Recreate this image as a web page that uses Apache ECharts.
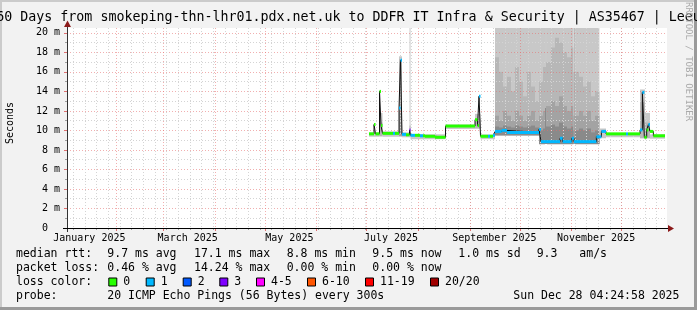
<!DOCTYPE html>
<html><head><meta charset="utf-8">
<script src="https://cdn.jsdelivr.net/npm/echarts@6/dist/echarts.min.js"></script>
<style>html,body{margin:0;padding:0;background:#f2f2f2}#c{width:697px;height:310px}</style>
</head><body><div id="c"></div>
<script>
// ---------- time frame ----------
const END_TIME = Date.UTC(2025, 11, 28, 4, 24, 58);
const SPAN_DAYS = 360;
const YEAR_START = Date.UTC(2025, 0, 1);
const Y_MAX = 20.5;

// ---------- axis ticks / labels ----------
const yTickValues = [0, 2, 4, 6, 8, 10, 12, 14, 16, 18, 20];
const yMinorValues = [1, 3, 5, 7, 9, 11, 13, 15, 17, 19];
const monthLabelText = ['January 2025', 'March 2025', 'May 2025', 'July 2025', 'September 2025', 'November 2025'];
const monthLabelMonth = [0, 2, 4, 6, 8, 10];

// ---------- median rtt (ms), step segments; days since 2025-01-01 ----------
const medDays = [182.4, 185.4, 186.3, 188.7, 189.6, 190.5, 196.8, 198.0, 200.4, 201.3, 202.2, 204.6, 206.7, 207.3, 210.0, 213.0, 214.8, 216.0, 222.0, 228.3,
  246.0, 247.5, 248.4, 249.3, 253.8, 255.0, 256.8, 258.0, 262.0, 265.2, 284.4, 285.6, 297.0, 298.6, 304.0, 305.4, 318.8, 321.8, 324.6, 336.6,
  337.8, 345.0, 346.4, 347.6, 349.0, 350.0, 351.0, 353.0, 360.0];
const medValues = [9.65, 10.6, 9.65, 14.0, 10.5, 9.7, 9.7, 9.7, 12.3, 17.2, 9.6, 9.55, 10.05, 9.5, 9.5, 9.45, 9.45, 9.4, 9.3, 10.45,
  11.1, 10.5, 13.5, 9.4, 9.4, 9.4, 9.5, 9.9, 10.0, 9.8, 10.1, 8.85, 9.2, 8.85, 9.2, 8.85, 9.35, 9.9, 9.65, 9.65,
  9.65, 10.05, 13.9, 9.3, 10.05, 10.6, 9.9, 9.45];
const medLoss = [0, 0, 0, 0, 0, 0, 1, 0, 1, 1, 1, 0, 3, 1, 0, 1, 0, 0, 0, 0,
  0, 0, 1, 0, 1, 0, 1, 1, 1, 1, 1, 1, 1, 1, 1, 1, 1, 1, 0, 1,
  0, 1, 1, 0, 0, 1, 0, 0];

// ---------- smoke (ms): segment boundaries + band tops (lightest .. darkest) ----------
const smokeDays = [182.4, 188.7, 190.5, 200.4, 202.2, 206.7, 207.3, 228.3, 246.0, 249.3,
  258.0, 260.4, 262.8, 265.2, 267.6, 270.0, 272.4, 274.8, 277.2, 279.6,
  282.0, 284.4, 286.8, 288.0, 288.6, 289.2, 291.6, 294.0, 296.4, 298.8,
  301.2, 303.6, 305.0, 305.8, 306.0, 308.4, 310.8, 313.2, 315.6, 318.0,
  320.6, 324.6, 345.0, 348.0, 351.0, 360.0];
const smokeLo = [9.35, 9.4, 9.35, 9.4, 9.3, 9.3, 9.1, 10.15, 10.2, 9.1,
  9.5, 9.5, 9.5, 9.5, 9.5, 9.5, 9.5, 9.5, 9.5, 9.5,
  9.5, 8.6, 8.6, 8.6, 8.6, 8.6, 8.6, 8.6, 8.6, 8.6,
  8.6, 8.6, 8.6, 8.6, 8.6, 8.6, 8.6, 8.6, 8.6, 8.6,
  9.2, 9.3, 9.2, 9.2, 9.15];
const smokeL1 = [9.8, 11.8, 9.9, 17.6, 9.8, 20.6, 9.6, 10.6, 11.7, 9.6,
  20.6, 20.6, 20.6, 20.6, 20.6, 20.6, 20.6, 20.6, 20.6, 20.6,
  20.6, 20.6, 20.6, 20.6, 20.6, 20.6, 20.6, 20.6, 20.6, 20.6,
  20.6, 20.6, 20.6, 20.6, 20.6, 20.6, 20.6, 20.6, 20.6, 20.6,
  10.2, 9.75, 14.2, 11.8, 9.6];
const smokeL2 = [0, 10.8, 0, 17.3, 0, 10.5, 0, 0, 11.2, 0,
  17.5, 16.0, 14.5, 15.5, 14.0, 16.5, 15.0, 13.5, 16.0, 14.5,
  13.0, 15.0, 16.5, 16.5, 17.0, 17.0, 18.5, 19.5, 19.0, 18.0,
  17.5, 18.5, 16.0, 16.0, 16.0, 15.5, 14.5, 15.0, 13.5, 14.0,
  0, 0, 13.0, 10.8, 0];
const smokeL3 = [0, 0, 0, 12.0, 0, 0, 0, 0, 0, 0,
  11.5, 11.0, 12.0, 11.5, 11.0, 12.0, 11.5, 11.0, 11.5, 12.0,
  11.0, 11.5, 12.0, 12.0, 12.5, 12.5, 13.0, 12.5, 13.5, 12.5,
  12.0, 12.5, 11.5, 11.5, 11.5, 12.0, 11.5, 12.0, 11.0, 11.5,
  0, 0, 0, 0, 0];
const smokeL4 = [0, 0, 0, 0, 0, 0, 0, 0, 0, 0,
  10.4, 10.3, 10.5, 10.4, 10.3, 10.5, 10.4, 10.3, 10.4, 10.5,
  10.3, 10.0, 10.2, 12.3, 10.4, 10.4, 10.6, 10.4, 10.8, 10.4,
  10.2, 10.4, 10.0, 20.6, 10.0, 10.2, 10.0, 10.2, 9.8, 10.0,
  0, 0, 0, 0, 0];

// ---------- legend ----------
const legendRtt = ['median rtt:', '9.7 ms avg', '17.1 ms max', '8.8 ms min', '9.5 ms now', '1.0 ms sd', '9.3', 'am/s'];
const legendLoss = ['packet loss:', '0.46 % avg', '14.24 % max', '0.00 % min', '0.00 % now'];
const lossLabels = ['0', '1', '2', '3', '4-5', '6-10', '11-19', '20/20'];
const lossColors = ['#26ff00', '#00b8ff', '#0059ff', '#7e00ff', '#ff00ff', '#ff5500', '#ff0000', '#a10000'];
const probeText = ['probe:', '20 ICMP Echo Pings (56 Bytes) every 300s', 'Sun Dec 28 04:24:58 2025'];
const titleText = '360 Days from smokeping-thn-lhr01.pdx.net.uk to DDFR IT Infra & Security | AS35467 | Leeuwarden';
const sideText = 'RRDTOOL / TOBI OETIKER';
const yTitle = 'Seconds';

// ---------- helpers ----------
const DAY = 86400000;
const START_TIME = END_TIME - SPAN_DAYS * DAY;
const ts = d => YEAR_START + d * DAY;
const FONT = 'DejaVu Sans Mono';

const mondays = [];
for (let t = Date.UTC(2025, 0, 6); t <= END_TIME; t += 7 * DAY) if (t >= START_TIME) mondays.push(t);
const monthStarts = [];
for (let m = 0; m < 12; m++) { const t = Date.UTC(2025, m, 1); if (t >= START_TIME && t <= END_TIME) monthStarts.push(t); }
const labelPos = monthLabelMonth.map(m => Date.UTC(2025, m, 1) + 14.6 * DAY);
const labelMap = {}; labelPos.forEach((t, i) => labelMap[t] = monthLabelText[i]);

const medData = medValues.map((v, i) => [ts(medDays[i]), ts(medDays[i + 1]), v, medLoss[i]]);
const medLine = medValues.map((v, i) => [ts(medDays[i]), v]);
medLine.push([ts(medDays[medDays.length - 1]), medValues[medValues.length - 1]]);
const smokeData = smokeLo.map((lo, i) => [ts(smokeDays[i]), ts(smokeDays[i + 1]), lo, smokeL1[i], smokeL2[i], smokeL3[i], smokeL4[i]]);
const smokeColors = ['#c8c8c8', '#b7b7b7', '#a3a3a3', '#8a8a8a'];

const MINOR = '#d4d4d4', MAJOR = 'rgba(230,110,110,0.55)';
const baseX = {type: 'value', min: START_TIME, max: END_TIME, position: 'bottom', gridIndex: 0, z: 2};
const baseY = {type: 'value', min: 0, max: Y_MAX, position: 'left', gridIndex: 0, z: 2};

const chart = echarts.init(document.getElementById('c'), null, {renderer: 'canvas'});
const g = [];
g.push({type: 'rect', shape: {x: 0, y: 0, width: 697, height: 2}, style: {fill: '#cbcbcb'}, silent: true});
g.push({type: 'rect', shape: {x: 0, y: 0, width: 2, height: 310}, style: {fill: '#cbcbcb'}, silent: true});
g.push({type: 'rect', shape: {x: 694, y: 0, width: 3, height: 310}, style: {fill: '#9a9a9a'}, silent: true});
g.push({type: 'rect', shape: {x: 0, y: 307, width: 697, height: 3}, style: {fill: '#9a9a9a'}, silent: true});
g.push({type: 'text', x: -11.7, y: 18, style: {text: titleText, font: '13.3px "' + FONT + '"', fill: '#000', verticalAlign: 'middle', align: 'left'}});
g.push({type: 'text', x: 10, y: 123, rotation: Math.PI / 2, style: {text: yTitle, font: '10px "' + FONT + '"', fill: '#000', verticalAlign: 'middle', align: 'center'}});
g.push({type: 'text', x: 688, y: 2, rotation: -Math.PI / 2, style: {text: sideText, font: '9px "' + FONT + '"', fill: '#aaaaaa', verticalAlign: 'middle', align: 'left'}});
g.push({type: 'line', shape: {x1: 67.5, y1: 26, x2: 67.5, y2: 232}, style: {stroke: '#333', lineWidth: 1}, z: 10});
g.push({type: 'line', shape: {x1: 63, y1: 228.5, x2: 669, y2: 228.5}, style: {stroke: '#000', lineWidth: 1}, z: 10});
g.push({type: 'polygon', shape: {points: [[668, 225], [674, 228.5], [668, 232]]}, style: {fill: '#8b1a1a'}, z: 10});
g.push({type: 'polygon', shape: {points: [[64, 27], [67.5, 20.5], [71, 27]]}, style: {fill: '#8b1a1a'}, z: 10});
const LF = '11.5px "' + FONT + '"';
const txt = (s, x, y) => g.push({type: 'text', x: x, y: y, style: {text: s, font: LF, fill: '#000', verticalAlign: 'middle', align: 'left'}});
const rttX = [16, 107.3, 194, 286.7, 372.3, 458.3, 536.7, 579.3];
legendRtt.forEach((s, i) => txt(s, rttX[i], 254.5));
const lossX = [16, 107.3, 194, 286.7, 372.3];
legendLoss.forEach((s, i) => txt(s, lossX[i], 268.5));
txt('loss color:', 16, 282.5);
const boxX = [108.3, 145.7, 182.7, 219.3, 256, 307, 365, 430];
lossLabels.forEach((s, i) => {
  g.push({type: 'rect', shape: {x: boxX[i] + 0.5, y: 278, width: 8, height: 8}, style: {fill: lossColors[i], stroke: '#000', lineWidth: 1}});
  txt(s, boxX[i] + 15, 282.5);
});
txt(probeText[0], 16, 296.3);
txt(probeText[1], 107.3, 296.3);
txt(probeText[2], 513.3, 296.3);

chart.setOption({
  animation: false,
  backgroundColor: '#f2f2f2',
  grid: {left: 67, top: 28, width: 600, height: 200, show: true, backgroundColor: '#ffffff', borderWidth: 0, containLabel: false},
  xAxis: [
    Object.assign({}, baseX, {
      axisLine: {show: true, lineStyle: {color: '#000', width: 1}},
      axisTick: {show: true, customValues: mondays, length: 2, lineStyle: {color: '#a0a0a0'}},
      splitLine: {show: true, lineStyle: {color: MINOR, type: [1, 2], width: 1}},
      axisLabel: {show: false}
    }),
    Object.assign({}, baseX, {
      axisLine: {show: false},
      axisTick: {show: true, customValues: monthStarts, length: 3, lineStyle: {color: '#e07070'}},
      splitLine: {show: true, lineStyle: {color: MAJOR, type: [1, 2], width: 1}},
      axisLabel: {show: false}
    }),
    Object.assign({}, baseX, {
      axisLine: {show: false}, axisTick: {show: false}, splitLine: {show: false},
      axisLabel: {show: true, customValues: labelPos, formatter: v => labelMap[v] || '', fontFamily: FONT, fontSize: 10, color: '#000', margin: 5, hideOverlap: false}
    })
  ],
  yAxis: [
    Object.assign({}, baseY, {
      axisLine: {show: true, lineStyle: {color: '#333', width: 1}},
      axisTick: {show: true, customValues: yTickValues, length: 3, lineStyle: {color: '#e07070'}},
      splitLine: {show: true, lineStyle: {color: MAJOR, type: [1, 2], width: 1}},
      axisLabel: {show: true, customValues: yTickValues, formatter: v => v === 0 ? '0  ' : v + ' m', fontFamily: FONT, fontSize: 10, color: '#000', margin: 7}
    }),
    Object.assign({}, baseY, {
      axisLine: {show: false},
      axisTick: {show: true, customValues: yMinorValues, length: 2, lineStyle: {color: '#a0a0a0'}},
      splitLine: {show: true, lineStyle: {color: MINOR, type: [1, 2], width: 1}},
      axisLabel: {show: false}
    })
  ],
  series: [
    {
      type: 'custom', name: 'smoke', xAxisIndex: 0, yAxisIndex: 0, z: 1, silent: true,
      data: smokeData,
      renderItem: function (params, api) {
        const t0 = api.value(0), t1 = api.value(1), lo = api.value(2);
        const cs = params.coordSys;
        const children = [];
        for (let k = 0; k < 4; k++) {
          const hi = api.value(3 + k);
          if (!(hi > lo)) continue;
          const a = api.coord([t0, Math.min(hi, Y_MAX)]);
          const b = api.coord([t1, lo]);
          children.push({type: 'rect', shape: {x: a[0], y: Math.max(a[1], cs.y), width: Math.max(b[0] - a[0], 1), height: b[1] - Math.max(a[1], cs.y)}, style: {fill: smokeColors[k]}});
        }
        return {type: 'group', children: children};
      }
    },
    {
      type: 'line', name: 'median', xAxisIndex: 0, yAxisIndex: 0, z: 3, step: 'end', showSymbol: false, silent: true,
      data: medLine, lineStyle: {color: '#111', width: 1}
    },
    {
      type: 'custom', name: 'loss', xAxisIndex: 0, yAxisIndex: 0, z: 4, silent: true,
      data: medData,
      renderItem: function (params, api) {
        const a = api.coord([api.value(0), api.value(2)]);
        const b = api.coord([api.value(1), api.value(2)]);
        return {type: 'rect', shape: {x: a[0], y: a[1] - 1.5, width: Math.max(b[0] - a[0], 1), height: 3}, style: {fill: lossColors[api.value(3)]}};
      }
    }
  ],
  graphic: g
});
</script>
</body></html>
